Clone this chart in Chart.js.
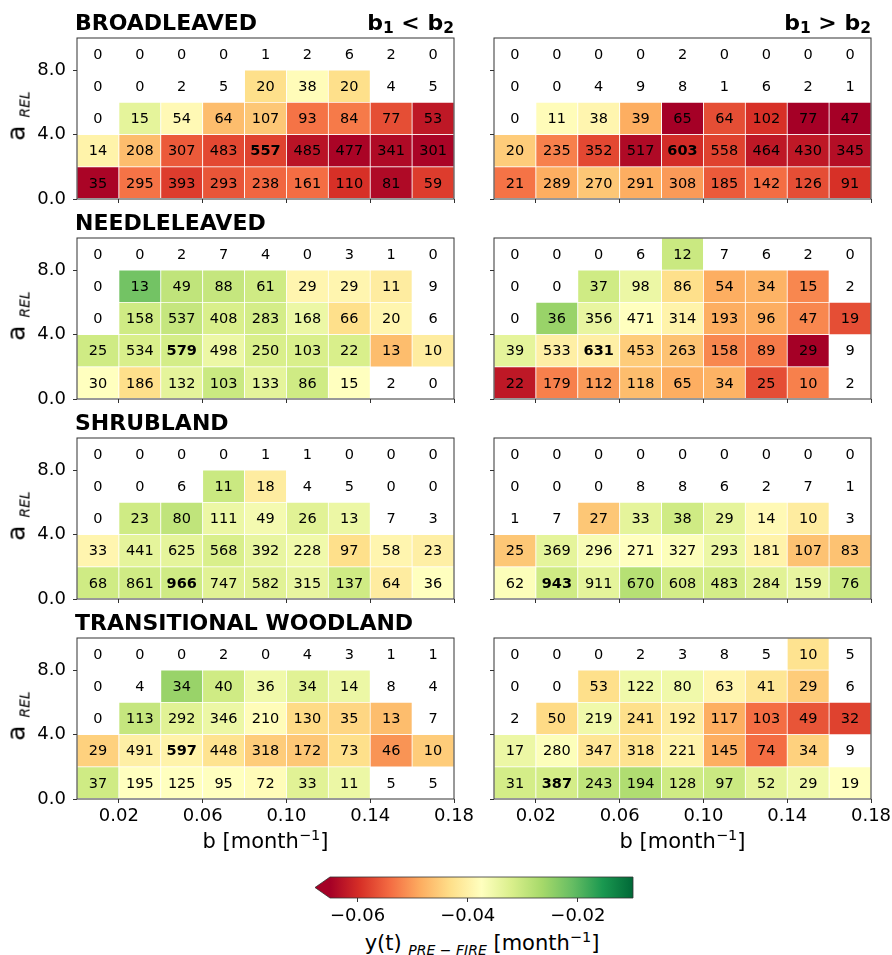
<!DOCTYPE html>
<html>
<head>
<meta charset="utf-8">
<script src="https://cdn.jsdelivr.net/npm/chart.js@4.4.1/dist/chart.umd.min.js"></script>
<style>
  body { margin: 0; background: #fff; font-family: "DejaVu Sans", sans-serif; }
  #fig { position: relative; width: 892px; height: 955px; overflow: hidden; }
  canvas { position: absolute; }
  .txt { position: absolute; white-space: nowrap; color: #000; }
  .ttl { font: bold 22px "DejaVu Sans", sans-serif; line-height: 22px; }
  .lo { position: relative; }
</style>
</head>
<body>
<div id="fig"></div>
<script>
// bins
const B_EDGES = [0.00, 0.02, 0.04, 0.06, 0.08, 0.10, 0.12, 0.14, 0.16, 0.18];
const A_EDGES = [0, 2, 4, 6, 8, 10];
const X_TICKS = [0.02, 0.06, 0.10, 0.14, 0.18];
const Y_TICKS = [0, 4, 8];
const CBAR_TICKS = [-0.06, -0.04, -0.02];
const V_MIN = -0.065, V_MAX = -0.01;
const LANDCOVER = ['BROADLEAVED', 'NEEDLELEAVED', 'SHRUBLAND', 'TRANSITIONAL WOODLAND'];

// rows go from a = 0-2 (bottom) to a = 8-10 (top); null = no colour (too few fires)
const BL_LT_Y = [
  [-0.0645, -0.0535, -0.0584, -0.0562, -0.0546, -0.0540, -0.0595, -0.0639, -0.0584],
  [-0.0397, -0.0469, -0.0557, -0.0573, -0.0579, -0.0628, -0.0645, -0.0639, -0.0645],
  [null, -0.0337, -0.0386, -0.0469, -0.0458, -0.0535, -0.0529, -0.0568, -0.0623],
  [null, null, null, null, -0.0430, -0.0381, -0.0430, null, null],
  [null, null, null, null, null, null, null, null, null]
];
const BL_LT_N = [
  [35, 295, 393, 293, 238, 161, 110, 81, 59],
  [14, 208, 307, 483, 557, 485, 477, 341, 301],
  [0, 15, 54, 64, 107, 93, 84, 77, 53],
  [0, 0, 2, 5, 20, 38, 20, 4, 5],
  [0, 0, 0, 0, 1, 2, 6, 2, 0]
];
const BL_GT_Y = [
  [-0.0535, -0.0485, -0.0458, -0.0485, -0.0502, -0.0557, -0.0540, -0.0568, -0.0595],
  [-0.0452, -0.0524, -0.0573, -0.0639, -0.0601, -0.0579, -0.0623, -0.0623, -0.0634],
  [null, -0.0381, -0.0392, -0.0485, -0.0650, -0.0568, -0.0595, -0.0650, -0.0650],
  [null, null, null, null, null, null, null, null, null],
  [null, null, null, null, null, null, null, null, null]
];
const BL_GT_N = [
  [21, 289, 270, 291, 308, 185, 142, 126, 91],
  [20, 235, 352, 517, 603, 558, 464, 430, 345],
  [0, 11, 38, 39, 65, 64, 102, 77, 47],
  [0, 0, 4, 9, 8, 1, 6, 2, 1],
  [0, 0, 0, 0, 2, 0, 0, 0, 0]
];
const NL_LT_Y = [
  [-0.0375, -0.0430, -0.0337, -0.0304, -0.0337, -0.0309, -0.0375, null, null],
  [-0.0309, -0.0320, -0.0315, -0.0348, -0.0320, -0.0320, -0.0320, -0.0469, -0.0408],
  [null, -0.0309, -0.0298, -0.0320, -0.0315, -0.0348, -0.0430, -0.0392, null],
  [null, -0.0221, -0.0293, -0.0298, -0.0309, -0.0392, -0.0392, -0.0408, null],
  [null, null, null, null, null, null, null, null, null]
];
const NL_LT_N = [
  [30, 186, 132, 103, 133, 86, 15, 2, 0],
  [25, 534, 579, 498, 250, 103, 22, 13, 10],
  [0, 158, 537, 408, 283, 168, 66, 20, 6],
  [0, 13, 49, 88, 61, 29, 29, 11, 9],
  [0, 0, 2, 7, 4, 0, 3, 1, 0]
];
const NL_GT_Y = [
  [-0.0623, -0.0524, -0.0502, -0.0469, -0.0485, -0.0480, -0.0568, -0.0524, null],
  [-0.0337, -0.0403, -0.0403, -0.0452, -0.0463, -0.0518, -0.0529, -0.0650, null],
  [null, -0.0254, -0.0342, -0.0375, -0.0397, -0.0485, -0.0485, -0.0518, -0.0568],
  [null, null, -0.0309, -0.0348, -0.0430, -0.0485, -0.0480, -0.0518, null],
  [null, null, null, null, -0.0304, null, null, null, null]
];
const NL_GT_N = [
  [22, 179, 112, 118, 65, 34, 25, 10, 2],
  [39, 533, 631, 453, 263, 158, 89, 29, 9],
  [0, 36, 356, 471, 314, 193, 96, 47, 19],
  [0, 0, 37, 98, 86, 54, 34, 15, 2],
  [0, 0, 0, 6, 12, 7, 6, 2, 0]
];
const SH_LT_Y = [
  [-0.0309, -0.0309, -0.0309, -0.0331, -0.0331, -0.0342, -0.0309, -0.0408, -0.0375],
  [-0.0392, -0.0337, -0.0337, -0.0320, -0.0342, -0.0353, -0.0430, -0.0392, -0.0403],
  [null, -0.0309, -0.0293, -0.0348, -0.0359, -0.0331, -0.0348, null, null],
  [null, null, null, -0.0304, -0.0408, null, null, null, null],
  [null, null, null, null, null, null, null, null, null]
];
const SH_LT_N = [
  [68, 861, 966, 747, 582, 315, 137, 64, 36],
  [33, 441, 625, 568, 392, 228, 97, 58, 23],
  [0, 23, 80, 111, 49, 26, 13, 7, 3],
  [0, 0, 6, 11, 18, 4, 5, 0, 0],
  [0, 0, 0, 0, 1, 1, 0, 0, 0]
];
const SH_GT_Y = [
  [-0.0370, -0.0309, -0.0337, -0.0282, -0.0315, -0.0315, -0.0331, -0.0342, -0.0304],
  [-0.0458, -0.0337, -0.0364, -0.0375, -0.0370, -0.0348, -0.0397, -0.0463, -0.0463],
  [null, null, -0.0458, -0.0337, -0.0309, -0.0337, -0.0386, -0.0408, null],
  [null, null, null, null, null, null, null, null, null],
  [null, null, null, null, null, null, null, null, null]
];
const SH_GT_N = [
  [62, 943, 911, 670, 608, 483, 284, 159, 76],
  [25, 369, 296, 271, 327, 293, 181, 107, 83],
  [1, 7, 27, 33, 38, 29, 14, 10, 3],
  [0, 0, 0, 8, 8, 6, 2, 7, 1],
  [0, 0, 0, 0, 0, 0, 0, 0, 0]
];
const TW_LT_Y = [
  [-0.0309, -0.0375, -0.0375, -0.0375, -0.0381, -0.0331, -0.0348, null, null],
  [-0.0447, -0.0403, -0.0397, -0.0425, -0.0452, -0.0458, -0.0430, -0.0507, -0.0452],
  [null, -0.0298, -0.0331, -0.0348, -0.0381, -0.0436, -0.0441, -0.0469, null],
  [null, null, -0.0254, -0.0309, -0.0353, -0.0331, -0.0348, null, null],
  [null, null, null, null, null, null, null, null, null]
];
const TW_LT_N = [
  [37, 195, 125, 95, 72, 33, 11, 5, 5],
  [29, 491, 597, 448, 318, 172, 73, 46, 10],
  [0, 113, 292, 346, 210, 130, 35, 13, 7],
  [0, 4, 34, 40, 36, 34, 14, 8, 4],
  [0, 0, 0, 2, 0, 4, 3, 1, 1]
];
const TW_GT_Y = [
  [-0.0315, -0.0315, -0.0293, -0.0276, -0.0309, -0.0304, -0.0337, -0.0353, -0.0375],
  [-0.0348, -0.0370, -0.0419, -0.0425, -0.0397, -0.0485, -0.0540, -0.0447, null],
  [null, -0.0436, -0.0353, -0.0430, -0.0408, -0.0485, -0.0540, -0.0562, -0.0579],
  [null, null, -0.0430, -0.0353, -0.0353, -0.0392, -0.0419, -0.0452, null],
  [null, null, null, null, null, null, null, -0.0425, null]
];
const TW_GT_N = [
  [31, 387, 243, 194, 128, 97, 52, 29, 19],
  [17, 280, 347, 318, 221, 145, 74, 34, 9],
  [2, 50, 219, 241, 192, 117, 103, 49, 32],
  [0, 0, 53, 122, 80, 63, 41, 29, 6],
  [0, 0, 0, 2, 3, 8, 5, 10, 5]
];

const PANELS = [
  { y: BL_LT_Y, n: BL_LT_N }, { y: BL_GT_Y, n: BL_GT_N },
  { y: NL_LT_Y, n: NL_LT_N }, { y: NL_GT_Y, n: NL_GT_N },
  { y: SH_LT_Y, n: SH_LT_N }, { y: SH_GT_Y, n: SH_GT_N },
  { y: TW_LT_Y, n: TW_LT_N }, { y: TW_GT_Y, n: TW_GT_N }
];

const FONT = '"DejaVu Sans", sans-serif';
Chart.defaults.font.family = FONT;
Chart.defaults.color = '#000';

// RdYlGn
const RDYLGN = ['#a50026', '#d73027', '#f46d43', '#fdae61', '#fee08b', '#ffffbf',
                '#d9ef8b', '#a6d96a', '#66bd63', '#1a9850', '#006837'];
const hex2rgb = h => [1, 3, 5].map(i => parseInt(h.slice(i, i + 2), 16));
function cmap(v) {
  let t = (v - V_MIN) / (V_MAX - V_MIN);
  t = Math.max(0, Math.min(1, t));
  const p = t * (RDYLGN.length - 1);
  const i = Math.min(Math.floor(p), RDYLGN.length - 2), f = p - i;
  const a = hex2rgb(RDYLGN[i]), b = hex2rgb(RDYLGN[i + 1]);
  return 'rgb(' + a.map((c, k) => Math.round(c + (b[k] - c) * f)).join(',') + ')';
}

const fig = document.getElementById('fig');
function addText(html, css, cls) {
  const d = document.createElement('div');
  d.className = 'txt' + (cls ? ' ' + cls : '');
  d.innerHTML = html;
  Object.assign(d.style, css);
  fig.appendChild(d);
  return d;
}

// left canvas is wider than its plot so the last x tick label is not cut off
const LEFT = { x: 0, w: 492, axisW: 77, padR: 38 };
const RIGHT = { x: 470, w: 422, axisW: 24, padR: 21 };
const TOP = 38, AREA_H = 161, AREA_W = 377;

PANELS.forEach((p, k) => {
  const row = Math.floor(k / 2), isLeft = k % 2 === 0, bottom = row === 3;
  const side = isLeft ? LEFT : RIGHT;
  const cv = document.createElement('canvas');
  cv.width = side.w;
  cv.height = TOP + AREA_H + (bottom ? 30 : 6);
  cv.style.left = side.x + 'px';
  cv.style.top = (row * 200) + 'px';
  fig.appendChild(cv);

  const maxN = Math.max(...p.n.flat());
  const datasets = p.y.map((vals, r) => ({
    data: vals.map((v, c) => ({
      x: (B_EDGES[c] + B_EDGES[c + 1]) / 2,
      y: v === null ? null : [A_EDGES[r], A_EDGES[r + 1]]
    })),
    backgroundColor: vals.map(v => v === null ? 'rgba(0,0,0,0)' : cmap(v)),
    borderColor: '#fff',
    borderWidth: 0.75,
    borderSkipped: false,
    grouped: false,
    barPercentage: 1,
    categoryPercentage: 1
  }));

  new Chart(cv, {
    type: 'bar',
    data: { datasets },
    options: {
      responsive: false, animation: false, devicePixelRatio: 1,
      layout: { padding: { top: TOP, right: side.padR, left: 0, bottom: 0 } },
      plugins: { legend: { display: false }, tooltip: { enabled: false } },
      scales: {
        x: {
          type: 'linear', min: B_EDGES[0], max: B_EDGES[B_EDGES.length - 1], offset: false,
          afterBuildTicks: s => { s.ticks = X_TICKS.map(v => ({ value: v })); },
          afterFit: s => { s.height = bottom ? 30 : 6; s.paddingLeft = 0; s.paddingRight = 0; },
          ticks: { display: bottom, autoSkip: false, maxRotation: 0, padding: 3,
                   font: { size: 18 }, callback: v => v.toFixed(2) },
          grid: { drawOnChartArea: false, offset: false, tickLength: 4, color: '#333' },
          border: { display: false }
        },
        y: {
          type: 'linear', min: A_EDGES[0], max: A_EDGES[A_EDGES.length - 1],
          afterBuildTicks: s => { s.ticks = Y_TICKS.map(v => ({ value: v })); },
          afterFit: s => { s.width = side.axisW; s.paddingTop = 0; s.paddingBottom = 0; },
          ticks: { display: isLeft, padding: 7, font: { size: 18 }, callback: v => v.toFixed(1) },
          grid: { drawOnChartArea: false, offset: false, tickLength: 4, color: '#333' },
          border: { display: false }
        }
      }
    },
    plugins: [{
      id: 'cells',
      afterDatasetsDraw(chart) {
        const { ctx, chartArea: a, scales: { x, y } } = chart;
        ctx.save();
        ctx.strokeStyle = '#333';
        ctx.lineWidth = 1;
        ctx.strokeRect(a.left, a.top, a.right - a.left, a.bottom - a.top);
        ctx.textAlign = 'center';
        ctx.textBaseline = 'middle';
        ctx.fillStyle = '#000';
        p.n.forEach((rowN, r) => rowN.forEach((c, i) => {
          ctx.font = (c === maxN ? 'bold ' : '') + '14.5px ' + FONT;
          ctx.fillText(String(c),
            x.getPixelForValue((B_EDGES[i] + B_EDGES[i + 1]) / 2),
            y.getPixelForValue((A_EDGES[r] + A_EDGES[r + 1]) / 2) + 1);
        }));
        ctx.restore();
      }
    }]
  });

  if (isLeft) {
    addText(LANDCOVER[row], { left: '75px', top: (12 + row * 200) + 'px' }, 'ttl');
    addText('a <span class="lo" style="font-size:14px;font-style:italic;top:5px">REL</span>', {
      left: '18px', top: (116 + row * 200) + 'px', fontSize: '25px', lineHeight: '25px',
      transform: 'translate(-50%,-50%) rotate(-90deg)'
    });
  }
  if (row === 0) {
    addText('b<span class="lo" style="font-size:15.5px;top:3px">1</span> ' + (isLeft ? '&lt;' : '&gt;') +
            ' b<span class="lo" style="font-size:15.5px;top:3px">2</span>',
            { right: (892 - (side.x + side.axisW + AREA_W)) + 'px', top: '12px' }, 'ttl');
  }
  if (bottom) {
    const cx = side.x + side.axisW + AREA_W / 2;
    addText('b [month<span class="lo" style="font-size:14.5px;top:-8px">\u22121</span>]', {
      left: cx + 'px', top: '829px', fontSize: '21px', lineHeight: '24px', transform: 'translateX(-50%)'
    });
  }
});

// colour bar
const cb = document.createElement('canvas');
cb.width = 360; cb.height = 68;
cb.style.left = '300px'; cb.style.top = '860px';
fig.appendChild(cb);
new Chart(cb, {
  type: 'bar',
  data: {
    labels: [''],
    datasets: [{
      data: [[V_MIN, V_MAX]],
      backgroundColor: c => {
        const ch = c.chart;
        if (!ch.chartArea) return 'rgba(0,0,0,0)';
        const xs = ch.scales.x;
        const g = ch.ctx.createLinearGradient(xs.getPixelForValue(V_MIN), 0, xs.getPixelForValue(V_MAX), 0);
        RDYLGN.forEach((col, i) => g.addColorStop(i / (RDYLGN.length - 1), col));
        return g;
      },
      borderWidth: 0, barPercentage: 1, categoryPercentage: 1
    }]
  },
  options: {
    indexAxis: 'y', responsive: false, animation: false, devicePixelRatio: 1,
    layout: { padding: { left: 30, right: 27, top: 17, bottom: 0 } },
    plugins: { legend: { display: false }, tooltip: { enabled: false } },
    scales: {
      y: { display: false },
      x: {
        type: 'linear', min: V_MIN, max: V_MAX, offset: false,
        afterBuildTicks: s => { s.ticks = CBAR_TICKS.map(v => ({ value: v })); },
        afterFit: s => { s.height = 30; s.paddingLeft = 0; s.paddingRight = 0; },
        ticks: { autoSkip: false, maxRotation: 0, padding: 4, font: { size: 18 },
                 callback: v => '\u2212' + Math.abs(v).toFixed(2) },
        grid: { drawOnChartArea: false, offset: false, tickLength: 4, color: '#333' },
        border: { display: false }
      }
    }
  },
  plugins: [{
    id: 'extend',
    afterDatasetsDraw(chart) {
      const { ctx, chartArea: a } = chart;
      const tip = a.left - 15, mid = (a.top + a.bottom) / 2;
      ctx.save();
      ctx.fillStyle = RDYLGN[0];
      ctx.beginPath();
      ctx.moveTo(a.left, a.top); ctx.lineTo(tip, mid); ctx.lineTo(a.left, a.bottom);
      ctx.closePath(); ctx.fill();
      ctx.strokeStyle = '#333'; ctx.lineWidth = 0.8;
      ctx.beginPath();
      ctx.moveTo(tip, mid); ctx.lineTo(a.left, a.top); ctx.lineTo(a.right, a.top);
      ctx.lineTo(a.right, a.bottom); ctx.lineTo(a.left, a.bottom); ctx.closePath();
      ctx.stroke();
      ctx.restore();
    }
  }]
});
addText('y(t) <span class="lo" style="font-size:14px;font-style:italic;top:5px">PRE \u2212 FIRE</span> [month<span class="lo" style="font-size:14.5px;top:-8px">\u22121</span>]', {
  left: '482px', top: '931px', fontSize: '21px', lineHeight: '24px', transform: 'translateX(-50%)'
});
</script>
</body>
</html>
